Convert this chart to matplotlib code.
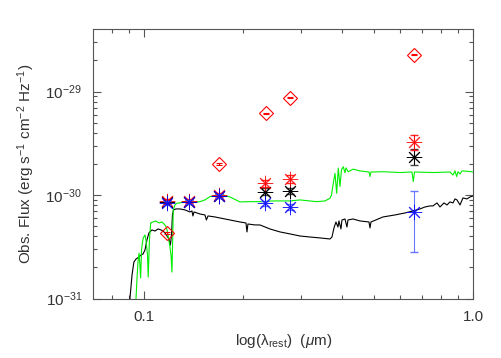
import matplotlib
matplotlib.use("Agg")
import matplotlib.pyplot as plt
import numpy as np
from matplotlib.ticker import FixedLocator, NullFormatter

plt.rcParams['font.family'] = ['Liberation Sans', 'DejaVu Sans']
plt.rcParams['mathtext.fontset'] = 'custom'
plt.rcParams['mathtext.rm'] = 'Liberation Sans'
plt.rcParams['mathtext.it'] = 'Liberation Sans:italic'

# model spectra: rest wavelength (micron), flux in 1e-30 erg/s/cm2/Hz
black_wave = [0.0900, 0.0905, 0.0918, 0.0930, 0.0944, 0.0964, 0.0977, 0.0991, 0.1005, 0.1019,
              0.1033, 0.1055, 0.1078, 0.1101, 0.1124, 0.1140, 0.1156, 0.1172, 0.1189, 0.1201,
              0.1210, 0.1218, 0.1227, 0.1248, 0.1284, 0.1330, 0.1377, 0.1396, 0.1406, 0.1416,
              0.1477, 0.1529, 0.1545, 0.1562, 0.1640, 0.1699, 0.1759, 0.1822, 0.1954, 0.2038,
              0.2052, 0.2066, 0.2170, 0.2247, 0.2410, 0.2585, 0.2772, 0.2973, 0.3189, 0.3420,
              0.3668, 0.3720, 0.3772, 0.3825, 0.3879, 0.3906, 0.3961, 0.3989, 0.4074, 0.4131,
              0.4160, 0.4308, 0.4525, 0.4819, 0.4853, 0.4887, 0.5316, 0.5781, 0.6201, 0.6558,
              0.6887, 0.7133, 0.7387, 0.7543, 0.7757, 0.7922, 0.8146, 0.8319, 0.8495, 0.8676,
              0.8798, 0.8922, 0.9111, 0.9304, 0.9569, 0.9772, 0.9980]
black_flux = [0.060, 0.101, 0.169, 0.225, 0.241, 0.252, 0.263, 0.269, 0.294, 0.368,
              0.430, 0.460, 0.449, 0.470, 0.460, 0.449, 0.430, 0.402, 0.376, 0.329,
              0.411, 0.642, 0.718, 0.734, 0.734, 0.718, 0.686, 0.702, 0.628, 0.686,
              0.656, 0.642, 0.574, 0.628, 0.614, 0.600, 0.587, 0.574, 0.549, 0.537,
              0.440, 0.525, 0.514, 0.514, 0.470, 0.440, 0.421, 0.402, 0.393, 0.385,
              0.376, 0.393, 0.481, 0.549, 0.491, 0.562, 0.470, 0.574, 0.587, 0.491,
              0.574, 0.587, 0.562, 0.549, 0.481, 0.549, 0.614, 0.642, 0.671, 0.702,
              0.734, 0.767, 0.785, 0.785, 0.839, 0.767, 0.839, 0.802, 0.858, 0.839,
              0.917, 0.897, 0.802, 0.938, 0.917, 0.958, 0.980]

green_wave = [0.0940, 0.0944, 0.0950, 0.0957, 0.0964, 0.0970, 0.0975, 0.0981, 0.0987, 0.0993,
              0.1005, 0.1012, 0.1023, 0.1028, 0.1037, 0.1046, 0.1063, 0.1085, 0.1108, 0.1132,
              0.1156, 0.1170, 0.1180, 0.1197, 0.1206, 0.1214, 0.1220, 0.1225, 0.1240, 0.1255,
              0.1284, 0.1314, 0.1377, 0.1426, 0.1477, 0.1529, 0.1584, 0.1660, 0.1738, 0.1822,
              0.1954, 0.2096, 0.2295, 0.2461, 0.2772, 0.2973, 0.3342, 0.3542, 0.3668, 0.3707,
              0.3754, 0.3799, 0.3844, 0.3887, 0.3934, 0.3975, 0.4026, 0.4074, 0.4103, 0.4169,
              0.4317, 0.4525, 0.4819, 0.4853, 0.4887, 0.5327, 0.5989, 0.6512, 0.6572, 0.6627,
              0.7559, 0.8495, 0.8676, 0.8798, 0.8903, 0.8985, 0.9111, 0.9239, 0.9503, 0.9889,
              0.9980]
green_flux = [0.060, 0.101, 0.151, 0.225, 0.275, 0.211, 0.158, 0.294, 0.344, 0.385,
              0.411, 0.368, 0.263, 0.161, 0.368, 0.537, 0.549, 0.562, 0.537, 0.549,
              0.514, 0.481, 0.411, 0.315, 0.263, 0.180, 0.368, 0.718, 0.802, 0.833,
              0.839, 0.863, 0.877, 0.858, 0.863, 0.897, 0.965, 1.000, 1.000, 0.958,
              0.858, 0.863, 0.863, 0.877, 0.877, 0.897, 0.863, 0.877, 0.931, 1.000,
              1.300, 1.620, 1.040, 1.820, 1.210, 1.750, 1.880, 1.640, 1.830, 1.680,
              1.780, 1.710, 1.670, 1.510, 1.670, 1.680, 1.650, 1.670, 1.350, 1.670,
              1.650, 1.670, 1.560, 1.710, 1.510, 1.680, 1.600, 1.710, 1.700, 1.680,
              1.670]

# photometry (flux in 1e-30)
diam_wave = [0.117, 0.169, 0.235, 0.277, 0.659]
diam_flux = [0.427, 2.00, 6.18, 8.69, 22.6]
diam_err = [0.01, 0.03, 0.08, 0.10, 0.25]

phot_wave = [0.117, 0.137, 0.169, 0.233, 0.277, 0.659]
red_flux = [0.877, 0.877, 1.00, 1.30, 1.43, 3.25]
red_err = [0.04, 0.04, 0.05, 0.10, 0.12, 0.55]
black_pt_flux = [0.86, 0.86, 0.98, 1.08, 1.10, 2.35]
black_pt_err = [0.04, 0.04, 0.05, 0.08, 0.08, 0.42]
blue_flux = [0.84, 0.86, 0.98, 0.833, 0.772, 0.691]
blue_err = [0.04, 0.04, 0.05, 0.05, 0.05, 0.41]

scale = 1e-30

fig = plt.figure(figsize=(5.01, 3.58), dpi=100)
ax = fig.add_axes([0.1862, 0.1662, 0.7585, 0.752])

ax.plot(black_wave, np.array(black_flux) * scale, color='black', lw=0.8, zorder=2)
ax.plot(green_wave, np.array(green_flux) * scale, color='#00ee00', lw=0.8, zorder=3)

star = (8, 2, 0)
ax.errorbar(diam_wave, np.array(diam_flux) * scale, yerr=np.array(diam_err) * scale,
            fmt='D', mfc='none', mec='red', ecolor='red', ms=7, mew=0.8,
            capsize=2.5, elinewidth=0.8, zorder=4)

ax.errorbar(phot_wave, np.array(black_pt_flux) * scale, yerr=np.array(black_pt_err) * scale,
            fmt='none', ecolor='#444444', capsize=3, elinewidth=0.8, zorder=4)
ax.plot(phot_wave, np.array(black_pt_flux) * scale, ls='none', marker=star, ms=11,
        mew=0.7, color='black', zorder=4)
ax.errorbar(phot_wave, np.array(red_flux) * scale, yerr=np.array(red_err) * scale,
            fmt='none', ecolor='red', capsize=3, elinewidth=0.8, alpha=0.85, zorder=5)
ax.plot(phot_wave, np.array(red_flux) * scale, ls='none', marker=star, ms=11,
        mew=0.7, color='red', alpha=0.85, zorder=5)
ax.errorbar(phot_wave, np.array(blue_flux) * scale, yerr=np.array(blue_err) * scale,
            fmt='none', ecolor='#6677ff', capsize=3, elinewidth=0.8, zorder=6)
ax.plot(phot_wave, np.array(blue_flux) * scale, ls='none', marker=star, ms=11,
        mew=0.7, color='blue', alpha=0.85, zorder=6)

ax.set_xscale('log')
ax.set_yscale('log')
ax.set_xlim(0.07, 1.0)
ax.set_ylim(1e-31, 4e-29)

ax.xaxis.set_major_locator(FixedLocator([0.1, 1.0]))
ax.set_xticklabels(['0.1', '1.0'])
ax.xaxis.set_minor_locator(FixedLocator([0.08, 0.09, 0.2, 0.3, 0.4, 0.5, 0.6, 0.7, 0.8, 0.9]))
ax.xaxis.set_minor_formatter(NullFormatter())
ax.yaxis.set_major_locator(FixedLocator([1e-31, 1e-30, 1e-29]))
ax.set_yticklabels([r'10$^{-31}$', r'10$^{-30}$', r'10$^{-29}$'])
y_minor = [m * 10.0 ** e for e in (-31, -30, -29) for m in range(2, 10) if m * 10.0 ** e < 4e-29]
ax.yaxis.set_minor_locator(FixedLocator(y_minor))
ax.yaxis.set_minor_formatter(NullFormatter())

ax.tick_params(which='both', direction='in', top=True, right=True, color='#555555',
               labelsize=11, labelcolor='#333333')
ax.tick_params(which='major', length=6, width=0.8, pad=8)
ax.tick_params(which='minor', length=3, width=0.8)
for s in ax.spines.values():
    s.set_color('#555555')
    s.set_linewidth(0.8)

ax.set_xlabel(r'log(λ$_{\rm rest}$)  ($\mathit{\mu}$m)', fontsize=11, color='#333333', labelpad=6)
ax.set_ylabel(r'Obs. Flux (erg s$^{-1}$ cm$^{-2}$ Hz$^{-1}$)', fontsize=11, color='#333333', labelpad=6)

fig.savefig('out.png', dpi=100)
